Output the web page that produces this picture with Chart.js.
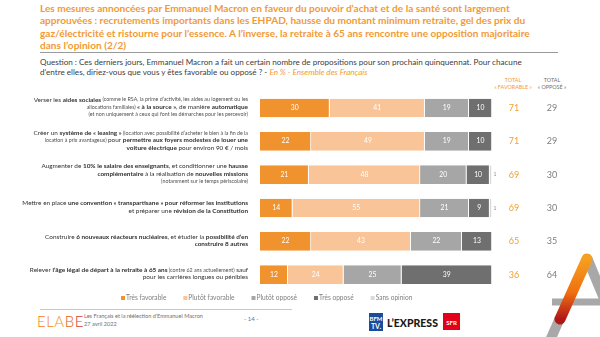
<!DOCTYPE html>
<html lang="fr">
<head>
<meta charset="UTF-8">
<title>Propositions Macron - ELABE</title>
<script src="https://cdn.jsdelivr.net/npm/chart.js@4.4.1/dist/chart.umd.min.js"></script>
<style>
  body { margin: 0; background: #fff; font-family: Lato, "Open Sans", sans-serif; }
  #page { position: relative; width: 600px; height: 337px; overflow: hidden; }
  .abs { position: absolute; }
  #title { left: 40px; top: 2px; white-space: nowrap; font-weight: bold; font-size: 10.1px; line-height: 12.3px; color: #F29A35; }
  #rule1 { left: 40px; top: 52px; width: 518px; height: 1px; background: #9a9a9a; }
  #question { left: 40px; top: 57px; white-space: nowrap; font-size: 8.1px; line-height: 10px; color: #404040; }
  #question i { color: #F29A35; }
  .tothead { top: 77px; font-size: 5.4px; line-height: 6.5px; text-align: center; width: 50px; }
  #rule2 { left: 40px; top: 309px; width: 252px; height: 1px; background: #c8c8c8; }
  #elabe { left: 37px; top: 312px; font-size: 15px; font-weight: 300; letter-spacing: 0.5px; }
  #foot { left: 84px; top: 312px; font-size: 5.6px; line-height: 8px; color: #707070; }
  #pagenum { left: 244px; top: 315px; font-size: 6px; color: #707070; }
  canvas { position: absolute; left: 0; top: 0; }
</style>
</head>
<body>
<div id="page">
  <div id="title" class="abs">Les mesures annoncées par Emmanuel Macron en faveur du pouvoir d’achat et de la santé sont largement<br>approuvées : recrutements importants dans les EHPAD, hausse du montant minimum retraite, gel des prix du<br>gaz/électricité et ristourne pour l’essence. A l’inverse, la retraite à 65 ans rencontre une opposition majoritaire<br>dans l’opinion (2/2)</div>
  <div id="rule1" class="abs"></div>
  <div id="question" class="abs">Question : Ces derniers jours, Emmanuel Macron a fait un certain nombre de propositions pour son prochain quinquennat. Pour chacune<br>d’entre elles, diriez-vous que vous y êtes favorable ou opposé ? - <i>En % - Ensemble des Français</i></div>
  <div class="abs tothead" style="left:488px;color:#F29A35">TOTAL<br>« FAVORABLE »</div>
  <div class="abs tothead" style="left:527px;color:#707070">TOTAL<br>« OPPOSÉ »</div>

  <div id="rule2" class="abs"></div>
  <div id="elabe" class="abs"><span style="color:#F07A1A">E</span><span style="color:#F08A1E">L</span><span style="color:#F09A22">A</span><span style="color:#E86020">B</span><span style="color:#D8402A">E</span></div>
  <div id="foot" class="abs">Les Français et la réélection d’Emmanuel Macron<br>27 avril 2022</div>
  <div id="pagenum" class="abs">- 14 -</div>

  <svg class="abs" style="left:0;top:0" width="600" height="337">
    <defs>
      <linearGradient id="tri" x1="0" y1="0" x2="0" y2="1">
        <stop offset="0" stop-color="#F5A020"/>
        <stop offset="0.55" stop-color="#F07010"/>
        <stop offset="1" stop-color="#B01818"/>
      </linearGradient>
    </defs>
    <!-- media logos -->
    <rect x="369" y="313" width="14" height="18" fill="#1B4B9B"/>
    <text x="376" y="321" font-family="Lato" font-size="6" font-weight="bold" fill="#fff" text-anchor="middle">BFM</text>
    <text x="376" y="329" font-family="Lato" font-size="7" font-weight="bold" fill="#fff" text-anchor="middle">TV.</text>
    <text x="387" y="327" font-family="Lato" font-size="10.5" font-weight="900" fill="#1a1a1a">L’EXPRESS</text>
    <rect x="443" y="313" width="17" height="17" fill="#E2001A"/>
    <text x="451.5" y="324.5" font-family="Lato" font-size="6" font-weight="bold" fill="#fff" text-anchor="middle">SFR</text>
    <!-- decorative triangle -->
    <line x1="588" y1="260" x2="612" y2="318" stroke="#a8a8a8" stroke-width="10" stroke-linecap="round"/>
    <line x1="552" y1="302" x2="610" y2="302" stroke="#a8a8a8" stroke-width="7"/>
    <line x1="560" y1="318" x2="548" y2="345" stroke="#a8a8a8" stroke-width="10"/>
    <line x1="587" y1="259" x2="560" y2="319" stroke="url(#tri)" stroke-width="11" stroke-linecap="round"/>
  </svg>

  <canvas id="chart" width="600" height="337"></canvas>
</div>

<script>
// categories (short names) and the rich label lines drawn beside each bar
const categories = ['Aides sociales', 'Leasing voiture', 'Salaire enseignants', 'Convention transpartisane', 'Réacteurs nucléaires', 'Retraite à 65 ans'];
// segments: [text, style] with n = normal, b = bold, s = small
const labelLines = [
  [[['Verser les ', 'n'], ['aides sociales', 'b'], [' (comme le RSA, la prime d’activité, les aides au logement ou les', 's']],
   [['allocations familiales) ', 's'], ['« à la source »', 'b'], [', de manière ', 'n'], ['automatique', 'b']],
   [['(et non uniquement à ceux qui font les démarches pour les percevoir)', 's']]],
  [[['Créer un ', 'n'], ['système de « leasing »', 'b'], [' (location avec possibilité d’acheter le bien à la fin de la', 's']],
   [['location à prix avantageux) ', 's'], ['pour ', 'n'], ['permettre aux foyers modestes de louer une', 'b']],
   [['voiture électrique', 'b'], [' pour environ 90 € / mois', 'n']]],
  [[['Augmenter de ', 'n'], ['10% le salaire des enseignants', 'b'], [', et conditionner une ', 'n'], ['hausse', 'b']],
   [['complémentaire', 'b'], [' à la réalisation de ', 'n'], ['nouvelles missions', 'b']],
   [['(notamment sur le temps périscolaire)', 's']]],
  [[['Mettre en place ', 'n'], ['une convention « transpartisane » pour réformer les institutions', 'b']],
   [['et préparer une ', 'n'], ['révision de la Constitution', 'b']]],
  [[['Construire ', 'n'], ['6 nouveaux réacteurs nucléaires', 'b'], [', et étudier la ', 'n'], ['possibilité d’en', 'b']],
   [['construire 8 autres', 'b']]],
  [[['Relever ', 'n'], ['l’âge légal de départ à la retraite à 65 ans', 'b'], [' (contre 62 ans actuellement)', 's'], [' sauf', 'n']],
   [['pour les carrières longues ou pénibles', 'n']]]
];

const seriesNames = ['Très favorable', 'Plutôt favorable', 'Plutôt opposé', 'Très opposé', 'Sans opinion'];
const tresFavorable   = [30, 22, 21, 14, 22, 12];
const plutotFavorable = [41, 49, 48, 55, 43, 24];
const plutotOppose    = [19, 19, 20, 21, 22, 25];
const tresOppose      = [10, 10, 10,  9, 13, 39];
const sansOpinion     = [ 0,  0,  1,  1,  0,  0];
const totalFavorable  = [71, 71, 69, 69, 65, 36];
const totalOppose     = [29, 29, 30, 30, 35, 64];

const colors = ['#F0922E', '#F9C497', '#A6A6A6', '#6F6F6F', '#D9D9D9'];
const FONT = 'Lato';

// draws the category labels, right aligned, with mixed bold/small parts
const richLabels = {
  id: 'richLabels',
  afterDraw(chart) {
    const ctx = chart.ctx;
    const y = chart.scales.y;
    const fonts = { n: '6.4px ' + FONT, b: 'bold 6.4px ' + FONT, s: '5.3px ' + FONT };
    const xRight = 248;
    ctx.save();
    ctx.textBaseline = 'middle';
    labelLines.forEach((lines, i) => {
      const cy = y.getPixelForValue(i) - 1;
      const lh = 7.4;
      const top = cy - (lines.length - 1) * lh / 2;
      lines.forEach((segs, j) => {
        let w = 0;
        segs.forEach(s => { ctx.font = fonts[s[1]]; w += ctx.measureText(s[0]).width; });
        let x = xRight - w;
        segs.forEach(s => {
          ctx.font = fonts[s[1]];
          ctx.fillStyle = s[1] === 's' ? '#505050' : '#303030';
          ctx.fillText(s[0], x, top + j * lh);
          x += ctx.measureText(s[0]).width;
        });
      });
    });
    ctx.restore();
  }
};

// values inside the bars, and the two total columns
const valueLabels = {
  id: 'valueLabels',
  afterDatasetsDraw(chart) {
    const ctx = chart.ctx;
    ctx.save();
    ctx.textBaseline = 'middle';
    chart.data.datasets.forEach((ds, di) => {
      chart.getDatasetMeta(di).data.forEach((bar, i) => {
        const v = ds.data[i];
        if (!v) return;
        if (di === 4) {
          ctx.font = '5px ' + FONT;
          ctx.fillStyle = '#909090';
          ctx.textAlign = 'left';
          ctx.fillText(v, bar.x + 1.5, bar.y);
        } else {
          ctx.font = '6.8px ' + FONT;
          ctx.fillStyle = '#ffffff';
          ctx.textAlign = 'center';
          ctx.fillText(v, (bar.x + bar.base) / 2, bar.y);
        }
      });
    });
    const y = chart.scales.y;
    ctx.font = '9px ' + FONT;
    ctx.textAlign = 'center';
    totalFavorable.forEach((v, i) => {
      const py = y.getPixelForValue(i);
      ctx.fillStyle = '#F0A030';
      ctx.fillText(v, 514, py);
      ctx.fillStyle = '#7F7F7F';
      ctx.fillText(totalOppose[i], 552, py);
    });
    ctx.restore();
  }
};

// legend row under the bars
const legendRow = {
  id: 'legendRow',
  afterDraw(chart) {
    const ctx = chart.ctx;
    ctx.save();
    ctx.font = '6.6px ' + FONT;
    ctx.textBaseline = 'middle';
    let x = 121;
    const ly = 298;
    chart.data.datasets.forEach(ds => {
      ctx.fillStyle = ds.backgroundColor;
      ctx.fillRect(x, ly - 2, 4, 4);
      ctx.fillStyle = '#808080';
      ctx.fillText(ds.label, x + 5, ly);
      x += 5 + ctx.measureText(ds.label).width + 17;
    });
    ctx.restore();
  }
};

const seriesData = [tresFavorable, plutotFavorable, plutotOppose, tresOppose, sansOpinion];

new Chart(document.getElementById('chart'), {
  type: 'bar',
  data: {
    labels: categories,
    datasets: seriesData.map((d, i) => ({
      label: seriesNames[i],
      data: d,
      backgroundColor: colors[i],
      borderColor: '#ffffff',
      borderWidth: { left: 0, right: 0.8, top: 0, bottom: 0 },
      borderSkipped: false,
      barPercentage: 0.56,
      categoryPercentage: 1
    }))
  },
  options: {
    indexAxis: 'y',
    responsive: false,
    animation: false,
    layout: { padding: { left: 260, right: 108, top: 91.3, bottom: 45.7 } },
    plugins: { legend: { display: false }, tooltip: { enabled: false } },
    scales: {
      x: { stacked: true, min: 0, max: 100, display: false },
      y: { stacked: true, display: false }
    }
  },
  plugins: [richLabels, valueLabels, legendRow]
});
</script>
</body>
</html>
